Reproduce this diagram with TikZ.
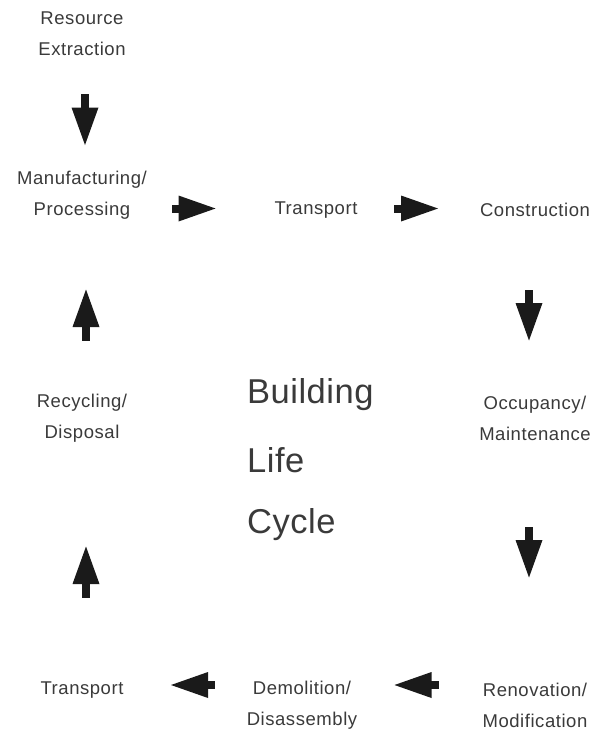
\documentclass[tikz,border=0pt]{standalone}
\usepackage{fontspec}
\setmainfont[LetterSpace=3]{Liberation Sans}
\newfontfamily\bigfont[LetterSpace=1.5]{Liberation Sans}
\begin{document}
\begin{tikzpicture}[x=1pt,y=-1pt,
  lbl/.style={font=\fontsize{18.5}{31}\selectfont, text=txtcol, align=center, inner sep=0pt},
  big/.style={font=\bigfont\fontsize{34.5}{65}\selectfont, text=txtcol, anchor=west, inner sep=0pt},
  hblock/.pic={\fill[arrcol] (-22,-4) rectangle (-14,4); \fill[arrcol] (-15,-13) -- (22,0) -- (-15,13) -- cycle;},
  vblock/.pic={\fill[arrcol] (-25.5,-4) rectangle (-11,4); \fill[arrcol] (-12,-13.5) -- (25.5,0) -- (-12,13.5) -- cycle;}]
\definecolor{txtcol}{HTML}{3A3A3A}
\definecolor{arrcol}{HTML}{1A1A1A}
\useasboundingbox (0,0) rectangle (601,732);
% labels
\node[lbl] (res) at (82,33.5) {Resource\\Extraction};
\node[lbl] (man) at (82,195) {Manufacturing/\\Processing};
\node[lbl] (tr1) at (316,210.5) {Transport};
\node[lbl] (con) at (535,210) {Construction};
\node[lbl] (occ) at (535,418) {Occupancy/\\Maintenance};
\node[lbl] (rec) at (82,418) {Recycling/\\Disposal};
\node[lbl] (ren) at (535,705) {Renovation/\\Modification};
\node[lbl] (dem) at (302,705) {Demolition/\\Disassembly};
\node[lbl] (tr2) at (82,690) {Transport};
\node[big] (b1) at (247,395) {Building};
\node[big] (b2) at (247,460) {Life};
\node[big] (b3) at (247,525) {Cycle};
% block arrows
\pic[rotate=-90] at (85,119.5) {vblock};
\pic at (193.5,208.5) {hblock};
\pic at (416,208.5) {hblock};
\pic[rotate=-90] at (529,315) {vblock};
\pic[rotate=-90] at (529,552) {vblock};
\pic[rotate=180] at (416.5,685) {hblock};
\pic[rotate=180] at (193,685) {hblock};
\pic[rotate=90] at (86,572) {vblock};
\pic[rotate=90] at (86,315) {vblock};
\end{tikzpicture}
\end{document}
